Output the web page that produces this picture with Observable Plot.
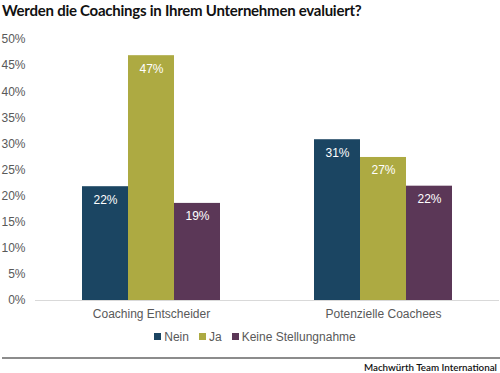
<!DOCTYPE html>
<html>
<head>
<meta charset="utf-8">
<script src="https://cdn.jsdelivr.net/npm/d3@7"></script>
<script src="https://cdn.jsdelivr.net/npm/@observablehq/plot@0.6"></script>
<style>
  html, body { margin: 0; padding: 0; background: #fff; }
  body { width: 500px; height: 373px; position: relative; overflow: hidden; font-family: "Liberation Sans", Arial, sans-serif; }
  #title { position: absolute; left: 2px; top: 0; height: 24px; line-height: 20px; font-family: Lato, sans-serif; font-weight: 700; font-size: 15px; color: #111; letter-spacing: -0.25px; white-space: nowrap; }
  #chart { position: absolute; left: 0; top: 24px; }
  #legend { position: absolute; top: 330px; left: 0; width: 510px; text-align: center; font-size: 12px; color: #595959; white-space: nowrap; }
  #legend span.item { margin: 0 5px; }
  #legend span.sw { display: inline-block; width: 7px; height: 7px; margin-right: 3px; vertical-align: 1px; }
  #rule { position: absolute; left: 2px; right: 0; top: 357px; height: 0; border-top: 2px solid #8c8c8c; }
  #footer { position: absolute; right: 3px; top: 361px; font-family: Lato, sans-serif; font-size: 9.8px; font-weight: 600; color: #111; white-space: nowrap; }
</style>
</head>
<body>
<div id="title">Werden die Coachings in Ihrem Unternehmen evaluiert?</div>
<div id="chart"></div>
<div id="legend"></div>
<div id="rule"></div>
<div id="footer">Machwürth Team International</div>
<script>
const groups = ["Coaching Entscheider", "Potenzielle Coachees"];
const series = ["Nein", "Ja", "Keine Stellungnahme"];
const nein = [21.8, 30.8];
const ja = [46.9, 27.4];
const keine = [18.6, 21.9];
const colors = ["#1b4562", "#adaa42", "#5b3757"];
const yTicks = [0, 5, 10, 15, 20, 25, 30, 35, 40, 45, 50];

const valuesBySeries = [nein, ja, keine];
const data = [];
groups.forEach((g, gi) => {
  series.forEach((s, si) => {
    data.push({group: g, series: s, value: valuesBySeries[si][gi]});
  });
});

const chart = Plot.plot({
  width: 500,
  height: 300,
  marginTop: 15,
  marginBottom: 24,
  marginLeft: 35,
  marginRight: 1,
  style: {fontFamily: "'Liberation Sans', Arial, sans-serif", fontSize: "12px", color: "#595959", background: "white"},
  fx: {domain: groups, padding: 0, label: null, tickSize: 0, tickPadding: 9},
  x: {domain: series, axis: null, paddingInner: 0, paddingOuter: 1},
  y: {domain: [0, 50], ticks: yTicks, tickFormat: d => d + "%", tickSize: 0, tickPadding: 10, label: null},
  color: {domain: series, range: colors},
  marks: [
    Plot.barY(data, {fx: "group", x: "series", y: "value", fill: "series"}),
    Plot.ruleY([0], {stroke: "#d9d9d9", strokeWidth: 1}),
    Plot.text(data, {fx: "group", x: "series", y: "value", text: d => Math.round(d.value) + "%", fill: "white", dy: 13, fontSize: 12})
  ]
});
document.getElementById("chart").appendChild(chart);

const legend = document.getElementById("legend");
series.forEach((s, i) => {
  const item = document.createElement("span");
  item.className = "item";
  const sw = document.createElement("span");
  sw.className = "sw";
  sw.style.background = colors[i];
  item.appendChild(sw);
  item.appendChild(document.createTextNode(s));
  legend.appendChild(item);
});
</script>
</body>
</html>
